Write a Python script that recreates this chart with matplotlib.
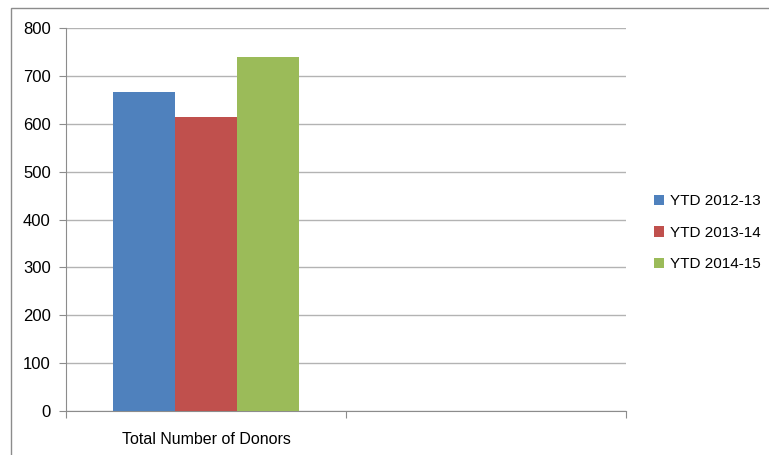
import matplotlib.pyplot as plt
from matplotlib.patches import Rectangle

# ── Data ─────────────────────────────────────────────────────────────────────
categories = ["Total Number of Donors", ""]
series = ["YTD 2012-13", "YTD 2013-14", "YTD 2014-15"]
values = [667, 615, 740]
colors = ["#4F81BD", "#C0504D", "#9BBB59"]
y_ticks = [0, 100, 200, 300, 400, 500, 600, 700, 800]

plt.rcParams['font.family'] = ['Liberation Sans', 'DejaVu Sans']

fig = plt.figure(figsize=(7.69, 4.55), dpi=100)
ax = fig.add_axes([66 / 769, 1 - 411 / 455, 560 / 769, 383 / 455])

# outer chart frame
fig.patches.append(Rectangle((11 / 769, -0.05), 1.1, 1 - 8 / 455 + 0.05,
                             transform=fig.transFigure, fill=False,
                             edgecolor="#8c8c8c", linewidth=1.0))

bar_w = 0.222
for i, (name, val, col) in enumerate(zip(series, values, colors)):
    ax.bar(0.5 + (i - 1) * bar_w, val, width=bar_w, color=col,
           label=name, zorder=3)

ax.set_xlim(0, 2)
ax.set_ylim(0, 800)
ax.set_yticks(y_ticks)
ax.yaxis.grid(True, color="#b3b3b3", linewidth=1.0, zorder=0)
ax.tick_params(axis='y', length=5, color="#8c8c8c", labelsize=12, pad=6)

ax.set_xticks([0, 1, 2])
ax.set_xticklabels([])
ax.set_xticks([0.5, 1.5], minor=True)
ax.set_xticklabels(categories, minor=True)
ax.tick_params(axis='x', which='major', length=5, color="#8c8c8c")
ax.tick_params(axis='x', which='minor', length=0, labelsize=11.5, pad=15)

for side in ["top", "right"]:
    ax.spines[side].set_visible(False)
for side in ["left", "bottom"]:
    ax.spines[side].set_color("#8c8c8c")

leg = ax.legend(loc="center left", bbox_to_anchor=(1.025, 0.465), frameon=False,
                fontsize=11, handlelength=0.7, handleheight=0.7,
                handletextpad=0.35, labelspacing=1.15)

fig.savefig("out.png", dpi=100)
